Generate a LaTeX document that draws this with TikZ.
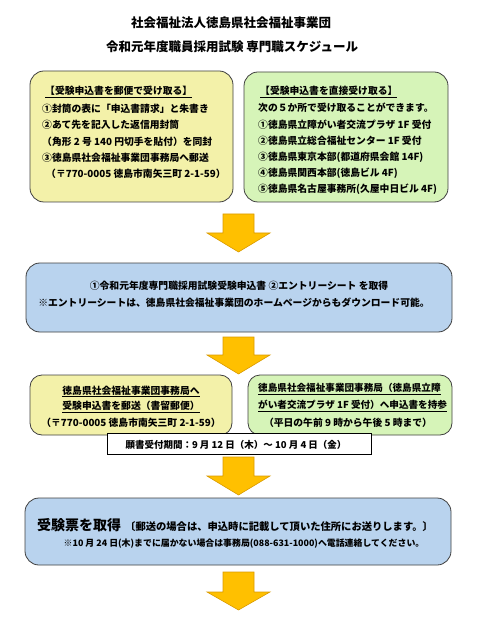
\documentclass[tikz,border=0pt]{standalone}
\usepackage{fontspec}
\setmainfont{Noto Sans CJK JP}
\definecolor{boxyellow}{HTML}{F3F1A9}
\definecolor{boxgreen}{HTML}{D6F4B8}
\definecolor{boxblue}{HTML}{B9D3EE}
\definecolor{arrowfill}{HTML}{FFC000}
\definecolor{arrowline}{HTML}{D99A00}
\definecolor{boxline}{HTML}{404040}
\tikzset{
  box/.style={draw=boxline, line width=0.8pt, rounded corners=14pt, inner sep=0pt},
  ybox/.style={box, fill=boxyellow},
  gbox/.style={box, fill=boxgreen},
  bbox/.style={box, fill=boxblue},
  datebox/.style={draw=black, line width=0.9pt, fill=white, inner sep=0pt},
  txt/.style={inner sep=0pt, font=\fontsize{9.8}{12}\selectfont\bfseries},
  title/.style={inner sep=0pt, font=\fontsize{12.5}{15}\selectfont\bfseries},
  blockarrow/.style={fill=arrowfill, draw=arrowline, line width=0.6pt, line join=miter}
}
\newcommand{\myarrow}[3]{%
  \draw[blockarrow] (223,#1) -- (254,#1) -- (254,#2) -- (270,#2) -- (238.5,#3)
    -- (207,#2) -- (223,#2) -- cycle;}
\begin{document}
\begin{tikzpicture}[x=1pt,y=-1pt]
\useasboundingbox (0,0) rectangle (495,617);
% title
\node[title] (t1) at (231,23) {社会福祉法人徳島県社会福祉事業団};
\node[title] (t2) at (232,47) {令和元年度職員採用試験 専門職スケジュール};
% box 1
\node[ybox, minimum width=203pt, minimum height=131pt] (b1) at (131.5,136.5) {};
\node[txt, anchor=west] (b1a) at (45,92) {\underline{【受験申込書を郵便で受け取る】}};
\node[txt, anchor=west] (b1b) at (42,108.5) {①封筒の表に「申込書請求」と朱書き};
\node[txt, anchor=west] (b1c) at (42,125) {②あて先を記入した返信用封筒};
\node[txt, anchor=west] (b1d) at (42,141.5) {（角形 2 号 140 円切手を貼付）を同封};
\node[txt, anchor=west] (b1e) at (42,158) {③徳島県社会福祉事業団事務局へ郵送};
\node[txt, anchor=west] (b1f) at (46,174) {（〒770-0005 徳島市南矢三町 2-1-59）};
% box 2
\node[gbox, minimum width=204pt, minimum height=130pt] (b2) at (346,137) {};
\node[txt, anchor=west] (b2a) at (260,92) {\underline{【受験申込書を直接受け取る】}};
\node[txt, anchor=west] (b2b) at (258,108) {次の５か所で受け取ることができます。};
\node[txt, anchor=west] (b2c) at (258,124.5) {①徳島県立障がい者交流プラザ 1F 受付};
\node[txt, anchor=west] (b2d) at (258,140.5) {②徳島県立総合福祉センター 1F 受付};
\node[txt, anchor=west] (b2e) at (258,157) {③徳島県東京本部(都道府県会館 14F)};
\node[txt, anchor=west] (b2f) at (258,173) {④徳島県関西本部(徳島ビル 4F)};
\node[txt, anchor=west] (b2g) at (258,189) {⑤徳島県名古屋事務所(久屋中日ビル 4F)};
% arrow 1
\myarrow{214}{233}{252}
% box 3
\node[bbox, minimum width=426pt, minimum height=69pt] (b3) at (239,297.5) {};
\node[txt] (b3a) at (239,286) {①令和元年度専門職採用試験受験申込書 ②エントリーシート を取得};
\node[txt] (b3b) at (234,303) {※エントリーシートは、徳島県社会福祉事業団のホームページからもダウンロード可能。};
% arrow 2
\myarrow{337}{355}{374}
% box 4
\node[ybox, rounded corners=12pt, minimum width=202pt, minimum height=60pt] (b4) at (131,405) {};
\node[txt] (b4a) at (131,391.5) {\underline{徳島県社会福祉事業団事務局へ}};
\node[txt] (b4b) at (131,407) {\underline{受験申込書を郵送（書留郵便）}};
\node[txt] (b4c) at (131,423) {（〒770-0005 徳島市南矢三町 2-1-59）};
% box 5
\node[gbox, rounded corners=12pt, minimum width=204pt, minimum height=60pt] (b5) at (350,405) {};
\node[txt, anchor=west, font=\fontsize{9.6}{12}\selectfont\bfseries] (b5a) at (258,389) {\underline{徳島県社会福祉事業団事務局（徳島県立障}};
\node[txt, anchor=west, font=\fontsize{9.6}{12}\selectfont\bfseries] (b5b) at (258,406) {\underline{がい者交流プラザ 1F 受付）へ申込書を持参}};
\node[txt] (b5c) at (348,423) {（平日の午前 9 時から午後 5 時まで）};
% date box
\node[datebox, minimum width=264pt, minimum height=21pt] (d) at (239,443.5) {};
\node[txt, font=\fontsize{9.5}{12}\selectfont\bfseries] (dt) at (236,445) {願書受付期間：9 月 12 日（木）～ 10 月 4 日（金）};
% arrow 3
\myarrow{457}{476}{495}
% box 6
\node[bbox, minimum width=426pt, minimum height=67pt] (b6) at (238,531.5) {};
\node[txt, anchor=west] (b6a) at (37,525) {{\fontsize{14}{16}\selectfont 受験票を取得}\hspace{4pt}{\fontsize{10.3}{12}\selectfont 〔郵送の場合は、申込時に記載して頂いた住所にお送りします。〕}};
\node[txt, font=\fontsize{8.9}{10}\selectfont\bfseries] (b6b) at (244,543.5) {※10 月 24 日(木)までに届かない場合は事務局(088-631-1000)へ電話連絡してください。};
% arrow 4
\myarrow{572}{592}{610}
\end{tikzpicture}
\end{document}
